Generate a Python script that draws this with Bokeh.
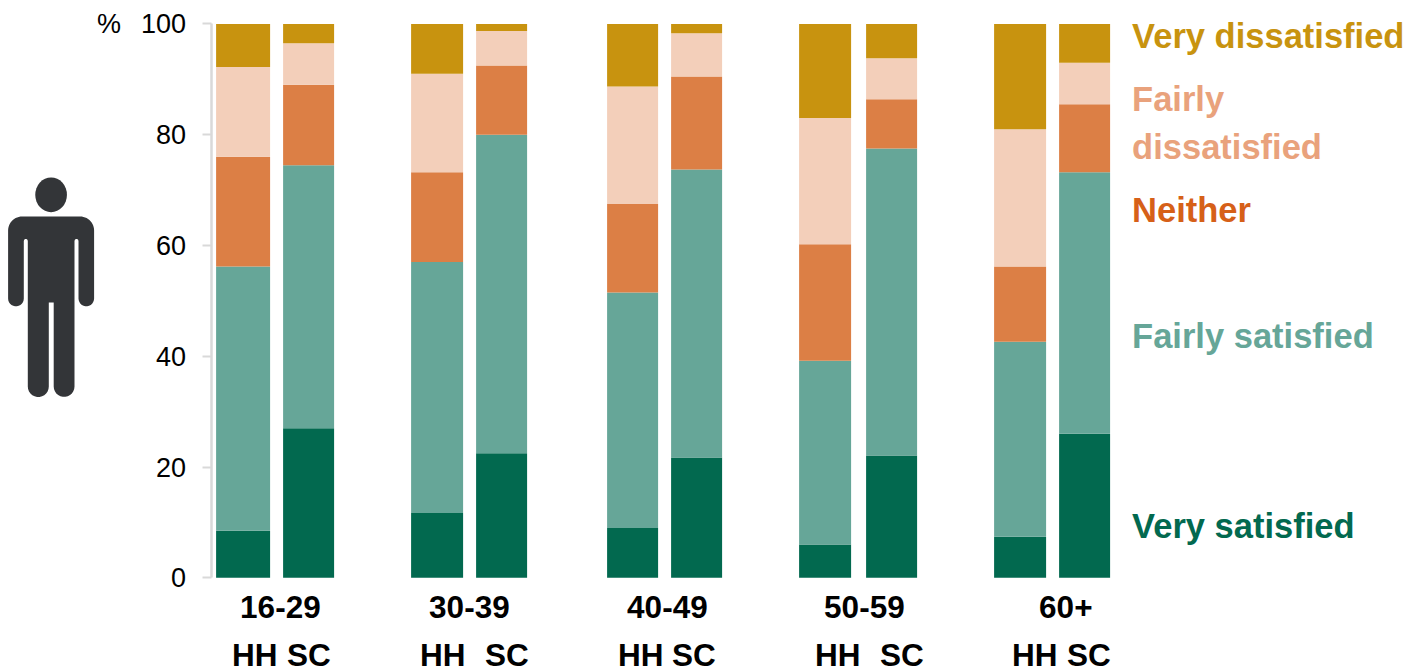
import numpy as np
from bokeh.core.properties import value
from bokeh.embed import file_html
from bokeh.models import ColumnDataSource, FixedTicker, LinearAxis, Range1d
from bokeh.plotting import figure
from bokeh.resources import INLINE

# Satisfaction shares (percent), one entry per bar: HH then SC for each age band
age_bands = ["16-29", "30-39", "40-49", "50-59", "60+"]
bar_groups = ["HH", "SC"]
very_satisfied = [8.5, 27.0, 11.7, 22.5, 9.0, 21.7, 6.0, 22.1, 7.4, 26.0]
fairly_satisfied = [47.7, 47.5, 45.3, 57.5, 42.5, 52.0, 33.2, 55.4, 35.2, 47.2]
neither = [19.8, 14.5, 16.2, 12.5, 16.0, 16.8, 21.0, 8.9, 13.6, 12.3]
fairly_dissatisfied = [16.2, 7.5, 17.8, 6.2, 21.2, 7.8, 22.8, 7.4, 24.8, 7.5]
very_dissatisfied = [7.8, 3.5, 9.0, 1.3, 11.3, 1.7, 17.0, 6.2, 19.0, 7.0]
y_ticks = [0, 20, 40, 60, 80, 100]

series = [
    ("Very satisfied", very_satisfied, "#02694F", "#02694F", 525),
    ("Fairly satisfied", fairly_satisfied, "#66A698", "#66A698", 335),
    ("Neither", neither, "#DC7F45", "#D66018", 209),
    ("Fairly dissatisfied", fairly_dissatisfied, "#F3CFBA", "#E9A27C", None),
    ("Very dissatisfied", very_dissatisfied, "#C8930F", "#C8930F", 35),
]

# Layout, in page pixels
WIDTH, HEIGHT = 1422, 671
Y0_PX, Y100_PX = 577.3, 23.4
px_per_unit = (Y0_PX - Y100_PX) / 100
bar_left = [216, 283, 411, 476, 607, 671, 799, 866, 994, 1059]
bar_right = [270, 334, 463, 527, 658, 722, 851, 917, 1046, 1110]
age_left = [240, 429, 627, 824, 1039]
hh_left = [232, 420, 618, 815, 1012]
sc_left = [287, 485, 672, 880, 1067]

p = figure(
    width=WIDTH,
    height=HEIGHT,
    x_range=Range1d(0.4, WIDTH + 0.4),
    y_range=Range1d(-(HEIGHT - Y0_PX) / px_per_unit, 100 + Y100_PX / px_per_unit),
    output_backend="svg",
    toolbar_location=None,
    min_border=0,
    min_border_left=0,
    min_border_right=0,
    min_border_top=0,
    min_border_bottom=0,
    outline_line_color=None,
    background_fill_color="white",
    border_fill_color="white",
)
p.xaxis.visible = False
p.yaxis.visible = False
p.grid.visible = False

# A second vertical scale in page pixels for the labels and the figure icon
p.extra_y_ranges = {"page": Range1d(HEIGHT, 0)}

# Stacked bars
running = np.zeros(len(bar_left))
for name, values, bar_color, _, _ in series:
    top = running + np.array(values)
    source = ColumnDataSource(dict(left=bar_left, right=bar_right, bottom=running, top=top))
    p.quad(left="left", right="right", bottom="bottom", top="top", source=source,
           fill_color=bar_color, line_color=None)
    running = top

# Value axis on the left of the first bar
axis = LinearAxis(
    fixed_location=211,
    ticker=FixedTicker(ticks=y_ticks),
    bounds=(0, 100),
    axis_line_color="#D9D9D9",
    axis_line_width=2.5,
    major_tick_line_color="#D9D9D9",
    major_tick_line_width=2,
    major_tick_in=0,
    major_tick_out=9,
    minor_tick_line_color=None,
    major_label_standoff=16,
    major_label_text_font="Liberation Sans",
    major_label_text_font_size="27px",
    major_label_text_color="black",
)
p.add_layout(axis, "left")


def labels(xs, ys, texts, color, size, style="bold"):
    p.text(x=xs, y=ys, text=texts, y_range_name="page",
           text_font=value("Liberation Sans"), text_font_size=value(f"{size}px"),
           text_font_style=style, text_color=color,
           text_align="left", text_baseline="middle")


labels([97], [23], ["%"], "black", 27, "normal")
labels(age_left, [606] * 5, age_bands, "black", 31.5)
labels(hh_left, [654] * 5, [bar_groups[0]] * 5, "black", 31.5)
labels(sc_left, [654] * 5, [bar_groups[1]] * 5, "black", 31.5)

# Series names beside the bars
for name, _, _, text_color, center in series:
    if center is not None:
        labels([1132], [center], [name], text_color, 34.5)
first, second = series[3][0].split(" ")
labels([1132, 1132], [98, 146], [first, second], series[3][3], 34.5)


# Person icon
def arc(cx, cy, r, start, stop, n=14):
    t = np.radians(np.linspace(start, stop, n))
    return list(cx + r * np.cos(t)), list(cy + r * np.sin(t))


def outline(*parts):
    xs, ys = [], []
    for part_x, part_y in parts:
        xs += list(part_x)
        ys += list(part_y)
    return xs, ys


icon_x, icon_y = outline(
    arc(22, 230, 14, 180, 270),
    arc(80, 230, 14, 270, 360),
    arc(86.2, 298, 7.8, 0, 180),
    ([78.4, 78.4], [298, 240]),
    arc(76.4, 240.5, 2, 360, 180, 6),
    ([74.4, 74.4], [240, 386]),
    arc(64, 386, 10.4, 0, 180),
    ([53.6, 53.6, 48.7, 48.7], [386, 302, 302, 386]),
    arc(38.2, 386, 10.5, 0, 180),
    ([27.7, 27.7], [386, 240]),
    arc(25.7, 240.5, 2, 360, 180, 6),
    ([23.7, 23.7], [240, 298]),
    arc(15.85, 298, 7.85, 0, 180),
)
p.patch(icon_x, icon_y, y_range_name="page", fill_color="#333538", line_color=None)
p.ellipse(x=[51], y=[194.3], width=[31.7], height=[34.7], y_range_name="page",
          fill_color="#333538", line_color=None)

open("out.html", "w").write(file_html(p, INLINE))
